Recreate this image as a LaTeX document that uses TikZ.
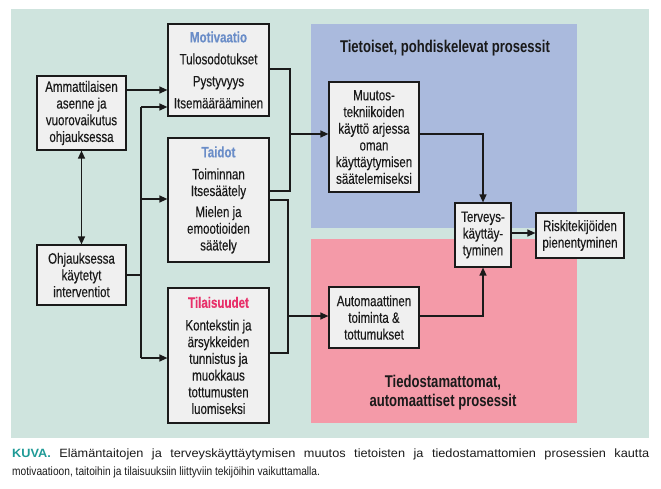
\documentclass[tikz,border=0pt]{standalone}
\usepackage{fontspec}
\setmainfont{Liberation Sans}[FakeStretch=0.77]
\newfontfamily\boxfont{Liberation Sans}[FakeStretch=0.77, FakeBold=0.25]
\newfontfamily\capfont{Liberation Sans}[FakeStretch=0.85]
\newfontfamily\capwide{Liberation Sans}[FakeStretch=1.06]
\usetikzlibrary{arrows.meta}
\definecolor{bggreen}{HTML}{CFE4DE}
\definecolor{pblue}{HTML}{AABADD}
\definecolor{ppink}{HTML}{F49AA8}
\definecolor{boxgray}{HTML}{F0F0F0}
\definecolor{tblue}{HTML}{6A8DC8}
\definecolor{tpink}{HTML}{E8306A}
\definecolor{kuva}{HTML}{1E9A96}
\definecolor{ink}{HTML}{1A1A1A}
\tikzset{
  box/.style={draw=ink, fill=boxgray, line width=1.2pt, inner sep=0pt, align=center,
    font=\boxfont\fontsize{15}{16.7}\selectfont, text=ink},
  conn/.style={draw=ink, line width=1.3pt},
  arr/.style={conn, -{Triangle[length=8pt,width=7pt]}},
  darr/.style={conn, {Triangle[length=8pt,width=7pt]}-{Triangle[length=8pt,width=7pt]}},
  seclabel/.style={font=\bfseries\fontsize{17}{19}\selectfont, text=ink, align=center, inner sep=0pt}
}
\begin{document}
\begin{tikzpicture}[x=1pt,y=-1pt]
\useasboundingbox (0,0) rectangle (661,489);
\fill[bggreen] (11,9) rectangle (649,438);
\fill[pblue] (311,24) rectangle (577,228);
\fill[ppink] (311,239) rectangle (577,423);
\node[seclabel] (lblT) at (445,48) {Tietoiset, pohdiskelevat prosessit};
\node[seclabel] (lblA) at (443,393) {Tiedostamattomat,\\automaattiset prosessit};

\node[box, minimum width=89pt, minimum height=74pt] (A) at (81.5,113)
  {Ammattilaisen\\asenne ja\\vuorovaikutus\\ohjauksessa};
\node[box, minimum width=89pt, minimum height=60pt] (O) at (81.5,275)
  {Ohjauksessa\\käytetyt\\interventiot};
\node[box, minimum width=101pt, minimum height=92pt] (M) at (218.5,70)
  {{\bfseries\color{tblue}Motivaatio}\\[5.3pt]Tulosodotukset\\[5.3pt]Pystyvyys\\[5.3pt]Itsemäärääminen};
\node[box, minimum width=101pt, minimum height=124pt] (T) at (218.5,200)
  {{\bfseries\color{tblue}Taidot}\\[5.3pt]Toiminnan\\Itsesäätely\\[4.3pt]Mielen ja\\emootioiden\\säätely};
\node[box, minimum width=101pt, minimum height=135pt] (S) at (218.5,355.5)
  {{\bfseries\color{tpink}Tilaisuudet}\\[6pt]Kontekstin ja\\ärsykkeiden\\tunnistus ja\\muokkaus\\tottumusten\\luomiseksi};
\node[box, minimum width=90pt, minimum height=110pt] (U) at (374,137)
  {Muutos-\\tekniikoiden\\käyttö arjessa\\oman\\käyttäytymisen\\säätelemiseksi};
\node[box, minimum width=90pt, minimum height=61pt] (AU) at (374,317.5)
  {Automaattinen\\toiminta \&\\tottumukset};
\node[box, minimum width=56pt, minimum height=64pt] (H) at (483,235)
  {Terveys-\\käyttäy-\\tyminen};
\node[box, minimum width=88pt, minimum height=45pt] (R) at (580,235.5)
  {Riskitekijöiden\\pienentyminen};

% left connectors
\draw[darr] (A.south) -- (O.north);
\draw[arr] (A.east |- 0,90) -- (M.west |- 0,90);
\coordinate (bt) at (141,107);
\coordinate (bb) at (141,358);
\draw[conn] (O.east) -- (O.east -| bt);
\draw[conn] (bt) -- (bb);
\draw[arr] (bt) -- (M.west |- bt);
\draw[arr] (141,199) -- (T.west |- 0,199);
\draw[arr] (bb) -- (S.west |- bb);

% right connectors of M/T/S
\draw[conn] (M.east |- 0,69) -- (290,69) -- (290,191) -- (T.east |- 0,191);
\draw[arr] (290,134) -- (U.west |- 0,134);
\draw[conn] (T.east |- 0,200) -- (288,200) -- (288,353) -- (S.east |- 0,353);
\draw[arr] (288,316) -- (AU.west |- 0,316);

% to Terveys
\draw[arr] (U.east |- 0,134) -- (H.north |- 0,134) -- (H.north);
\draw[arr] (AU.east |- 0,316) -- (H.south |- 0,316) -- (H.south);
\draw[arr] (H.east |- 0,233) -- (R.west |- 0,233);

% caption
\node[anchor=north west, text width=637pt, align=justify, inner sep=0pt,
  font=\capfont\fontsize{12}{18}\selectfont, text=ink] (cap) at (12,449)
  {{\capwide{\bfseries\color{kuva}KUVA.} Elämäntaitojen ja terveyskäyttäytymisen muutos tietoisten ja tiedostamattomien prosessien kautta}\linebreak motivaatioon, taitoihin ja tilaisuuksiin liittyviin tekijöihin vaikuttamalla.};
\end{tikzpicture}
\end{document}
